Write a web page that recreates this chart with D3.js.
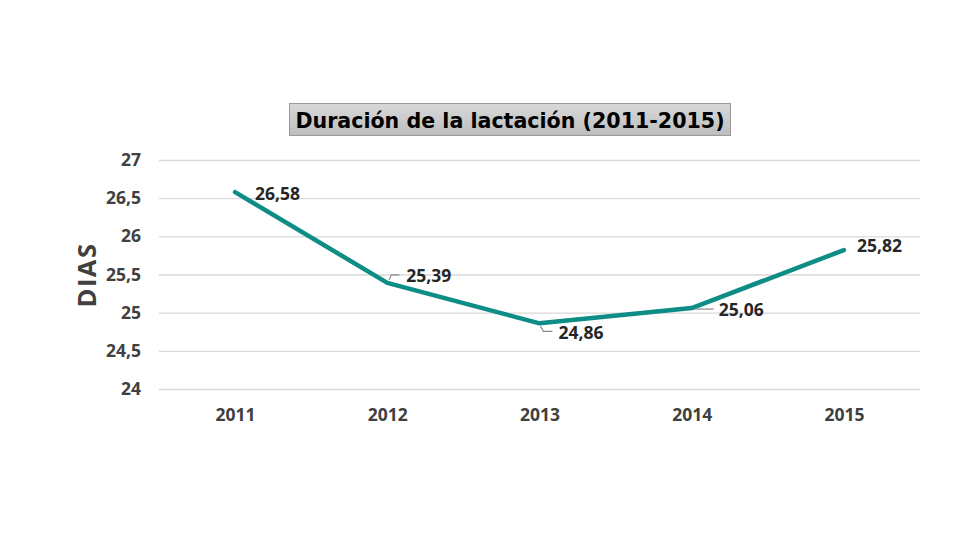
<!DOCTYPE html>
<html>
<head>
<meta charset="utf-8">
<script src="https://cdn.jsdelivr.net/npm/d3@7"></script>
<style>
  html, body { margin: 0; padding: 0; background: #fff; }
  svg { display: block; }
</style>
</head>
<body>
<svg id="chart" width="980" height="560"></svg>
<script>
const years = ["2011", "2012", "2013", "2014", "2015"];
const values = [26.58, 25.39, 24.86, 25.06, 25.82];
const valueLabels = ["26,58", "25,39", "24,86", "25,06", "25,82"];
const yTicks = [24, 24.5, 25, 25.5, 26, 26.5, 27];
const yTickLabels = ["24", "24,5", "25", "25,5", "26", "26,5", "27"];
const titleText = "Duración de la lactación (2011-2015)";
const yAxisTitle = "DIAS";

(function () {
// label offsets relative to the point (layout, not data)
const labelOffsets = [
  {dx: 20, dy: 1, leader: null},
  {dx: 19, dy: -8, leader: "up"},
  {dx: 19, dy: 9, leader: "down"},
  {dx: 27, dy: 1, leader: "flat"},
  {dx: 13, dy: -5, leader: null}
];

const svg = d3.select("#chart");
const pLeft = 159, pRight = 920, pTop = 160, pBottom = 389;

const x = d3.scalePoint().domain(years).range([pLeft, pRight]).padding(0.5);
const y = d3.scaleLinear().domain([24, 27]).range([pBottom, pTop]);

const defs = svg.append("defs");
const grad = defs.append("linearGradient").attr("id", "tg").attr("x1", 0).attr("y1", 0).attr("x2", 0).attr("y2", 1);
grad.append("stop").attr("offset", "0%").attr("stop-color", "#d9d9d9");
grad.append("stop").attr("offset", "100%").attr("stop-color", "#bdbdbd");

// Title box
svg.append("rect").attr("x", 289.5).attr("y", 103.5).attr("width", 441).attr("height", 32)
  .attr("fill", "url(#tg)").attr("stroke", "#9a9a9a").attr("stroke-width", 1);
svg.append("text").attr("x", 510).attr("y", 127.5).attr("text-anchor", "middle")
  .attr("font-family", "DejaVu Sans, Verdana, sans-serif").attr("font-weight", "bold")
  .attr("font-size", 20.6).attr("fill", "#000").text(titleText);

// gridlines + y axis
const yAxis = d3.axisLeft(y).tickValues(yTicks)
  .tickFormat((d, i) => yTickLabels[i]).tickSize(-(pRight - pLeft)).tickPadding(18);
const gy = svg.append("g").attr("transform", `translate(${pLeft},0)`).call(yAxis);
gy.select(".domain").remove();
gy.selectAll(".tick line").attr("stroke", "#d9d9d9").attr("stroke-width", 1.3);
gy.selectAll(".tick text").attr("font-family", "Open Sans, Liberation Sans, sans-serif")
  .attr("font-weight", "bold").attr("font-size", 17.5).attr("fill", "#404040");

// x axis
const xAxis = d3.axisBottom(x).tickSize(0).tickPadding(20);
const gx = svg.append("g").attr("transform", `translate(0,${pBottom})`).call(xAxis);
gx.select(".domain").remove();
gx.selectAll(".tick text").attr("font-family", "Open Sans, Liberation Sans, sans-serif")
  .attr("font-weight", "bold").attr("font-size", 17.5).attr("fill", "#404040");

// y axis title
svg.append("text").attr("transform", `translate(96,275) rotate(-90)`)
  .attr("text-anchor", "middle").attr("font-family", "Open Sans, Liberation Sans, sans-serif")
  .attr("font-weight", "bold").attr("font-size", 25.5).attr("fill", "#404040")
  .attr("letter-spacing", 1.5).text(yAxisTitle);

// line
const data = years.map((yr, i) => ({yr, v: values[i], lab: valueLabels[i], off: labelOffsets[i]}));
const line = d3.line().x(d => x(d.yr)).y(d => y(d.v));
svg.append("path").datum(data).attr("d", line).attr("fill", "none")
  .attr("stroke", "#0e8c86").attr("stroke-width", 4.5).attr("stroke-linejoin", "round").attr("stroke-linecap", "round");

// leader lines
data.forEach(d => {
  const px = x(d.yr), py = y(d.v);
  let pts = null;
  if (d.off.leader === "up") pts = [[px + 2, py - 3], [px + 4, py - 8], [px + 12, py - 8]];
  if (d.off.leader === "down") pts = [[px + 1, py + 3], [px + 4, py + 8], [px + 13, py + 8]];
  if (d.off.leader === "flat") pts = [[px + 3, py + 1], [px + 22, py + 1]];
  if (pts) svg.append("path").attr("d", d3.line()(pts)).attr("fill", "none")
    .attr("stroke", "#8c8c8c").attr("stroke-width", 1.2);
});

// labels
svg.selectAll(".lab").data(data).enter().append("text")
  .attr("x", d => x(d.yr) + d.off.dx).attr("y", d => y(d.v) + d.off.dy)
  .attr("dominant-baseline", "central")
  .attr("font-family", "Open Sans, Liberation Sans, sans-serif").attr("font-weight", "bold")
  .attr("font-size", 17.5).attr("fill", "#262626").text(d => d.lab);
})();
</script>
</body>
</html>
